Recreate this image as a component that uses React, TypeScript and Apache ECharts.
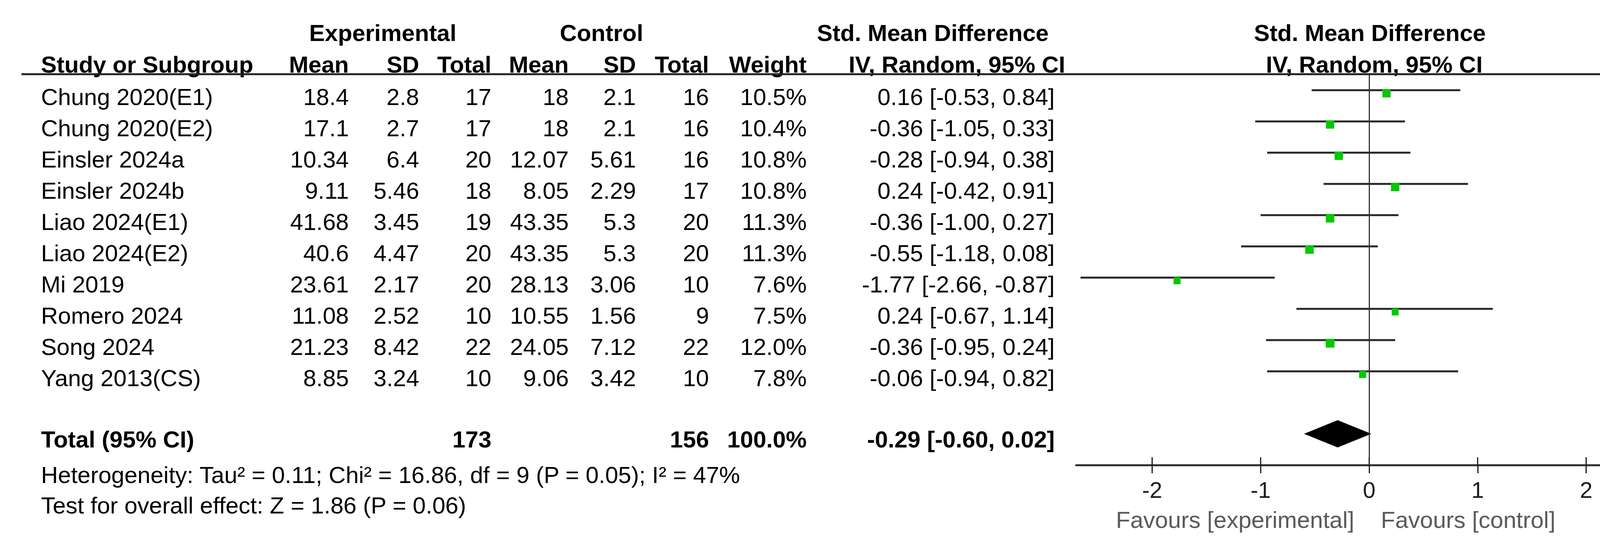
import React, { useEffect, useRef } from "react";
import * as echarts from "echarts";

// ---------------- data ----------------
const studies = [
  "Chung 2020(E1)",
  "Chung 2020(E2)",
  "Einsler 2024a",
  "Einsler 2024b",
  "Liao 2024(E1)",
  "Liao 2024(E2)",
  "Mi 2019",
  "Romero 2024",
  "Song 2024",
  "Yang 2013(CS)",
];
const expMean = [18.4, 17.1, 10.34, 9.11, 41.68, 40.6, 23.61, 11.08, 21.23, 8.85];
const expSD = [2.8, 2.7, 6.4, 5.46, 3.45, 4.47, 2.17, 2.52, 8.42, 3.24];
const expTotal = [17, 17, 20, 18, 19, 20, 20, 10, 22, 10];
const ctlMean = [18, 18, 12.07, 8.05, 43.35, 43.35, 28.13, 10.55, 24.05, 9.06];
const ctlSD = [2.1, 2.1, 5.61, 2.29, 5.3, 5.3, 3.06, 1.56, 7.12, 3.42];
const ctlTotal = [16, 16, 16, 17, 20, 20, 10, 9, 22, 10];
const weight = [10.5, 10.4, 10.8, 10.8, 11.3, 11.3, 7.6, 7.5, 12.0, 7.8];
const smd = [0.16, -0.36, -0.28, 0.24, -0.36, -0.55, -1.77, 0.24, -0.36, -0.06];
const ciLow = [-0.53, -1.05, -0.94, -0.42, -1.0, -1.18, -2.66, -0.67, -0.95, -0.94];
const ciHigh = [0.84, 0.33, 0.38, 0.91, 0.27, 0.08, -0.87, 1.14, 0.24, 0.82];

const totalExp = 173;
const totalCtl = 156;
const totalWeight = 100.0;
const pooled = [-0.29, -0.6, 0.02]; // estimate, low, high

const tickValues = [-2, -1, 0, 1, 2];
const axisRange = [-2.7, 2.7];

const heterogeneityText =
  "Heterogeneity: Tau² = 0.11; Chi² = 16.86, df = 9 (P = 0.05); I² = 47%";
const overallText = "Test for overall effect: Z = 1.86 (P = 0.06)";
const favoursLeft = "Favours [experimental]";
const favoursRight = "Favours [control]";

// ---------------- layout ----------------
const W = 4347;
const H = 1406;
const FONT = '"Liberation Sans", Arial, Helvetica, sans-serif';
const FS = 60;
const ROW0_PX = 231; // pixel y of the first study's CI line
const ROW_PX = 80; // pixel pitch of rows
const toRow = (px: number) => (px - ROW0_PX) / ROW_PX;
const TEXT_OFF = 0.22; // text centre sits a bit below the CI line
const POOLED_ROW = studies.length + 1;
const PLOT_TOP = 190;
const PLOT_BOTTOM = 1191;
const AXIS_ROW = toRow(PLOT_BOTTOM);

const COL = {
  name: 105,
  eMean: 893,
  eSD: 1073,
  eTot: 1258,
  cMean: 1456,
  cSD: 1628,
  cTot: 1815,
  weight: 2065,
  ci: 2700,
};

type Cell = {
  x: number;
  y: number;
  text: string;
  align: "left" | "right" | "center";
  bold?: boolean;
  color?: string;
};

const fmtCI = (e: number, l: number, h: number) =>
  `${e.toFixed(2)} [${l.toFixed(2)}, ${h.toFixed(2)}]`;

function buildCells(): Cell[] {
  const cells: Cell[] = [];
  const h1 = toRow(84);
  const h2 = toRow(165);
  cells.push({ x: 980, y: h1, text: "Experimental", align: "center", bold: true });
  cells.push({ x: 1540, y: h1, text: "Control", align: "center", bold: true });
  cells.push({ x: 2388, y: h1, text: "Std. Mean Difference", align: "center", bold: true });
  cells.push({ x: 3507, y: h1, text: "Std. Mean Difference", align: "center", bold: true });

  cells.push({ x: COL.name, y: h2, text: "Study or Subgroup", align: "left", bold: true });
  cells.push({ x: COL.eMean, y: h2, text: "Mean", align: "right", bold: true });
  cells.push({ x: COL.eSD, y: h2, text: "SD", align: "right", bold: true });
  cells.push({ x: COL.eTot, y: h2, text: "Total", align: "right", bold: true });
  cells.push({ x: COL.cMean, y: h2, text: "Mean", align: "right", bold: true });
  cells.push({ x: COL.cSD, y: h2, text: "SD", align: "right", bold: true });
  cells.push({ x: COL.cTot, y: h2, text: "Total", align: "right", bold: true });
  cells.push({ x: COL.weight, y: h2, text: "Weight", align: "right", bold: true });
  cells.push({ x: 2727, y: h2, text: "IV, Random, 95% CI", align: "right", bold: true });
  cells.push({ x: 3518, y: h2, text: "IV, Random, 95% CI", align: "center", bold: true });

  studies.forEach((s, i) => {
    const y = i + TEXT_OFF;
    cells.push({ x: COL.name, y, text: s, align: "left" });
    cells.push({ x: COL.eMean, y, text: String(expMean[i]), align: "right" });
    cells.push({ x: COL.eSD, y, text: String(expSD[i]), align: "right" });
    cells.push({ x: COL.eTot, y, text: String(expTotal[i]), align: "right" });
    cells.push({ x: COL.cMean, y, text: String(ctlMean[i]), align: "right" });
    cells.push({ x: COL.cSD, y, text: String(ctlSD[i]), align: "right" });
    cells.push({ x: COL.cTot, y, text: String(ctlTotal[i]), align: "right" });
    cells.push({ x: COL.weight, y, text: weight[i].toFixed(1) + "%", align: "right" });
    cells.push({ x: COL.ci, y, text: fmtCI(smd[i], ciLow[i], ciHigh[i]), align: "right" });
  });

  const ty = POOLED_ROW + 0.18;
  cells.push({ x: COL.name, y: ty, text: "Total (95% CI)", align: "left", bold: true });
  cells.push({ x: COL.eTot, y: ty, text: String(totalExp), align: "right", bold: true });
  cells.push({ x: COL.cTot, y: ty, text: String(totalCtl), align: "right", bold: true });
  cells.push({ x: COL.weight, y: ty, text: totalWeight.toFixed(1) + "%", align: "right", bold: true });
  cells.push({ x: COL.ci, y: ty, text: fmtCI(pooled[0], pooled[1], pooled[2]), align: "right", bold: true });

  cells.push({ x: COL.name, y: toRow(1216), text: heterogeneityText, align: "left" });
  cells.push({ x: COL.name, y: toRow(1294), text: overallText, align: "left" });

  cells.push({ x: 3467, y: toRow(1331), text: favoursLeft, align: "right", color: "#5a5a5a" });
  cells.push({ x: 3535, y: toRow(1331), text: favoursRight, align: "left", color: "#5a5a5a" });
  return cells;
}

export default function App() {
  const ref = useRef<HTMLDivElement>(null);

  useEffect(() => {
    document.body.style.margin = "0";
    if (!ref.current) return;
    const chart = echarts.init(ref.current, undefined, { renderer: "svg" });
    const cells = buildCells();

    const plotLeft = 2755;
    const plotWidth = 1500;

    const option: any = {
      animation: false,
      backgroundColor: "#ffffff",
      grid: [
        { left: 0, top: 0, width: W, height: H },
        { left: plotLeft, top: PLOT_TOP, width: plotWidth, height: PLOT_BOTTOM - PLOT_TOP },
      ],
      xAxis: [
        { gridIndex: 0, type: "value", min: 0, max: W, show: false },
        {
          gridIndex: 1,
          type: "value",
          min: axisRange[0],
          max: axisRange[1],
          position: "bottom",
          axisLine: { show: true, onZero: false, lineStyle: { color: "#2e2e2e", width: 5 } },
          axisTick: {
            show: true,
            length: 21,
            customValues: tickValues,
            lineStyle: { color: "#1a1a1a", width: 3 },
          },
          axisLabel: {
            show: true,
            customValues: tickValues,
            margin: 34,
            fontSize: 58,
            fontFamily: FONT,
            color: "#1a1a1a",
          },
          splitLine: { show: false },
        },
      ],
      yAxis: [
        { gridIndex: 0, type: "value", min: toRow(0), max: toRow(H), inverse: true, show: false },
        {
          gridIndex: 1,
          type: "value",
          min: toRow(PLOT_TOP),
          max: AXIS_ROW,
          inverse: true,
          show: false,
        },
      ],
      graphic: [
        {
          type: "line",
          shape: { x1: 55, y1: 190, x2: 4312, y2: 190 },
          style: { stroke: "#222222", lineWidth: 5 },
          z: 10,
        },
      ],
      series: [
        {
          type: "custom",
          name: "table",
          xAxisIndex: 0,
          yAxisIndex: 0,
          silent: true,
          data: cells.map((c) => [c.x, c.y]),
          renderItem: (params: any, api: any) => {
            const c = cells[params.dataIndex];
            const p = api.coord([api.value(0), api.value(1)]);
            return {
              type: "text",
              x: p[0],
              y: p[1],
              style: {
                text: c.text,
                fill: c.color || "#000000",
                font: `${c.bold ? "bold " : ""}${FS}px ${FONT}`,
                align: c.align,
                verticalAlign: "middle",
              },
            };
          },
        },
        {
          // upward half of the axis ticks
          type: "custom",
          name: "ticksUp",
          xAxisIndex: 1,
          yAxisIndex: 1,
          silent: true,
          clip: false,
          data: tickValues.map((v) => [v, AXIS_ROW]),
          renderItem: (params: any, api: any) => {
            const p = api.coord([api.value(0), api.value(1)]);
            return {
              type: "line",
              shape: { x1: p[0], y1: p[1] - 20, x2: p[0], y2: p[1] },
              style: { stroke: "#1a1a1a", lineWidth: 3 },
            };
          },
        },
        {
          type: "custom",
          name: "studies",
          xAxisIndex: 1,
          yAxisIndex: 1,
          silent: true,
          encode: { x: [0, 1, 2], y: 3 },
          data: studies.map((_, i) => [smd[i], ciLow[i], ciHigh[i], i, weight[i]]),
          renderItem: (params: any, api: any) => {
            const y = api.value(3);
            const pL = api.coord([api.value(1), y]);
            const pH = api.coord([api.value(2), y]);
            const pE = api.coord([api.value(0), y]);
            const s = 21 * Math.sqrt(api.value(4) / 10.5);
            return {
              type: "group",
              children: [
                {
                  type: "line",
                  shape: { x1: pL[0], y1: pL[1], x2: pH[0], y2: pH[1] },
                  style: { stroke: "#262626", lineWidth: 5 },
                },
                {
                  type: "rect",
                  shape: { x: pE[0] - s / 2, y: pE[1] + 8 - s / 2, width: s, height: s },
                  style: { fill: "#00c800" },
                  z2: 5,
                },
              ],
            };
          },
          markLine: {
            silent: true,
            symbol: "none",
            label: { show: false },
            lineStyle: { color: "#333333", width: 3, type: "solid" },
            data: [{ xAxis: 0 }],
          },
        },
        {
          type: "custom",
          name: "pooled",
          xAxisIndex: 1,
          yAxisIndex: 1,
          silent: true,
          encode: { x: [0, 1, 2], y: 3 },
          data: [[pooled[0], pooled[1], pooled[2], POOLED_ROW]],
          renderItem: (params: any, api: any) => {
            const y = api.value(3);
            const pE = api.coord([api.value(0), y]);
            const pL = api.coord([api.value(1), y]);
            const pH = api.coord([api.value(2), y]);
            const hh = 35;
            return {
              type: "polygon",
              shape: {
                points: [
                  [pL[0], pL[1]],
                  [pE[0], pE[1] - hh],
                  [pH[0], pH[1]],
                  [pE[0], pE[1] + hh],
                ],
              },
              style: { fill: "#000000" },
            };
          },
        },
      ],
    };

    chart.setOption(option);
    return () => chart.dispose();
  }, []);

  return <div ref={ref} style={{ width: W, height: H }} />;
}
